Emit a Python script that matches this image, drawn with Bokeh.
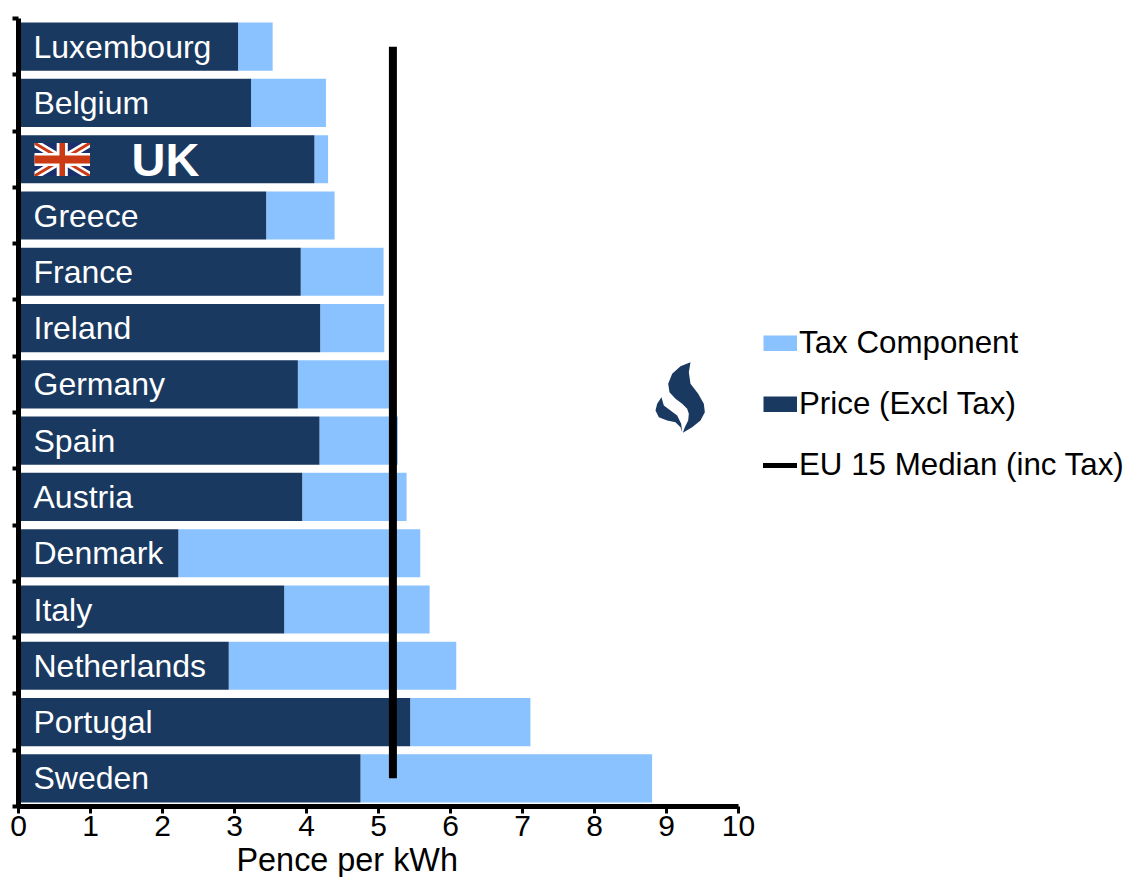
from bokeh.plotting import figure
from bokeh.models import (Range1d, FixedTicker, Legend, LegendItem, PolyAnnotation, Title)
from bokeh.core.properties import value
from bokeh.embed import file_html
from bokeh.resources import INLINE

countries = ["Luxembourg", "Belgium", "UK", "Greece", "France", "Ireland", "Germany",
             "Spain", "Austria", "Denmark", "Italy", "Netherlands", "Portugal", "Sweden"]
price = [3.05, 3.23, 4.11, 3.44, 3.92, 4.19, 3.88, 4.18, 3.94, 2.22, 3.69, 2.92, 5.44, 4.75]
total = [3.53, 4.27, 4.30, 4.39, 5.07, 5.08, 5.17, 5.27, 5.39, 5.58, 5.71, 6.08, 7.11, 8.80]
eu_median = 5.2
x_ticks = [0, 1, 2, 3, 4, 5, 6, 7, 8, 9, 10]

DARK = "#1A3960"
LIGHT = "#8AC2FF"
FONT = "Liberation Sans"
FL, FR, FT, FB = 18, 738, 18, 806  # frame edges in the picture
NAN = float("nan")

n = len(countries)
centers = [i + 0.5 for i in range(n)]

p = figure(width=1117, height=869, frame_width=FR - FL, frame_height=FB - FT,
           min_border_left=FL, min_border_top=FT, min_border_right=0, min_border_bottom=0,
           x_range=Range1d(0, 10), y_range=Range1d(n, 0),
           output_backend="svg", toolbar_location=None, outline_line_color=None,
           border_fill_color="white", background_fill_color="white")
p.grid.visible = False

p.hbar(y=centers, left=price, right=total, height=0.855, fill_color=LIGHT, line_color=None)
p.hbar(y=centers, left=0, right=price, height=0.855, fill_color=DARK, line_color=None)
p.line([eu_median] * n, centers, line_color="black", line_width=8, line_cap="butt")
key_tax = p.line([NAN, NAN], [NAN, NAN], line_color=LIGHT, line_width=16, line_cap="butt")
key_price = p.line([NAN, NAN], [NAN, NAN], line_color=DARK, line_width=16, line_cap="butt")
key_med = p.line([NAN, NAN], [NAN, NAN], line_color="black", line_width=5, line_cap="round")

plain = [i for i, c in enumerate(countries) if c != "UK"]
p.text(x=[0] * len(plain), y=[centers[i] for i in plain], text=[countries[i] for i in plain],
       x_offset=15, y_offset=0, text_color="white", text_font=value(FONT), text_font_size="32px",
       text_baseline="middle", text_align="left")
uk = countries.index("UK")
p.text(x=[0], y=[centers[uk]], text=[countries[uk]], x_offset=113, y_offset=0, text_color="white",
       text_font=value(FONT), text_font_size="47px", text_font_style="bold",
       text_baseline="middle", text_align="left")

xa = p.xaxis[0]
xa.ticker = FixedTicker(ticks=x_ticks)
xa.axis_line_color = "black"
xa.axis_line_width = 5
xa.major_tick_line_color = "black"
xa.major_tick_line_width = 3
xa.major_tick_in = 0
xa.major_tick_out = 7
xa.minor_tick_line_color = None
xa.major_label_standoff = 2
xa.major_label_text_font = FONT
xa.major_label_text_font_size = "30px"
xa.major_label_text_color = "black"

ya = p.yaxis[0]
ya.ticker = FixedTicker(ticks=list(range(n + 1)))
ya.axis_line_color = "black"
ya.axis_line_width = 5
ya.major_tick_line_color = "black"
ya.major_tick_line_width = 4
ya.major_tick_in = 0
ya.major_tick_out = 6
ya.minor_tick_line_color = None
ya.major_label_text_font_size = "0px"
ya.major_label_text_color = None
ya.major_label_standoff = 0


def dx(px):
    return (px - FL) / (FR - FL) * 10


def dy(py):
    return (py - FT) / (FB - FT) * n


p.add_layout(Title(text="Pence per kWh", align="left", offset=218, standoff=2, text_font=FONT,
                   text_font_size="32.4px", text_font_style="normal", text_color="black"), "below")

legend = Legend(items=[LegendItem(label="Tax Component", renderers=[key_tax]),
                       LegendItem(label="Price (Excl Tax)", renderers=[key_price]),
                       LegendItem(label="EU 15 Median (inc Tax)", renderers=[key_med])],
                location=(25, 323), orientation="vertical", background_fill_alpha=0,
                border_line_color=None, padding=0, margin=0, spacing=25,
                glyph_width=34, glyph_height=16, label_height=36, label_standoff=2,
                label_text_font=FONT, label_text_font_size="31.3px", label_text_color="black")
p.add_layout(legend, "right")


def deco(points, color):
    """Decorative shape given in picture pixels."""
    p.add_layout(PolyAnnotation(xs=[dx(a) for a, _ in points], ys=[dy(b) for _, b in points],
                                fill_color=color, fill_alpha=1, line_color=None))


def flame(points):
    return [(645 + a / 3, 355 + b / 3) for a, b in points]


deco(flame([(135, 20), (105, 32), (80, 55), (68, 85), (72, 110), (90, 130), (110, 145), (125, 160), (130, 175),
            (128, 195), (118, 215), (112, 232), (140, 215), (165, 195), (178, 170), (175, 145), (158, 115),
            (135, 85), (130, 50)]), DARK)
deco(flame([(48, 125), (35, 145), (30, 165), (40, 185), (65, 195), (90, 200), (105, 215), (110, 230), (107, 205),
            (95, 180), (75, 165), (55, 150)]), DARK)

fx0, fx1, fy0, fy1 = 34, 89.5, 142.5, 175.5
fw, fh = fx1 - fx0, fy1 - fy0


def fl(a, b):
    return (fx0 + a * fw, fy0 + b * fh)


def diagonals(t, color):
    deco([fl(0, 0), fl(t, 0), fl(1, 1 - t), fl(1, 1), fl(1 - t, 1), fl(0, t)], color)
    deco([fl(1, 0), fl(1, t), fl(t, 1), fl(0, 1), fl(0, 1 - t), fl(1 - t, 0)], color)


deco([fl(0, 0), fl(1, 0), fl(1, 1), fl(0, 1)], "#1B2F6E")
diagonals(0.14, "white")
diagonals(0.05, "#CC3A14")
deco([fl(0.4, 0), fl(0.6, 0), fl(0.6, 1), fl(0.4, 1)], "white")
deco([fl(0, 0.3), fl(1, 0.3), fl(1, 0.7), fl(0, 0.7)], "white")
deco([fl(0.45, 0), fl(0.55, 0), fl(0.55, 1), fl(0.45, 1)], "#CC3A14")
deco([fl(0, 0.38), fl(1, 0.38), fl(1, 0.62), fl(0, 0.62)], "#CC3A14")

open("out.html", "w").write(file_html(p, INLINE))
